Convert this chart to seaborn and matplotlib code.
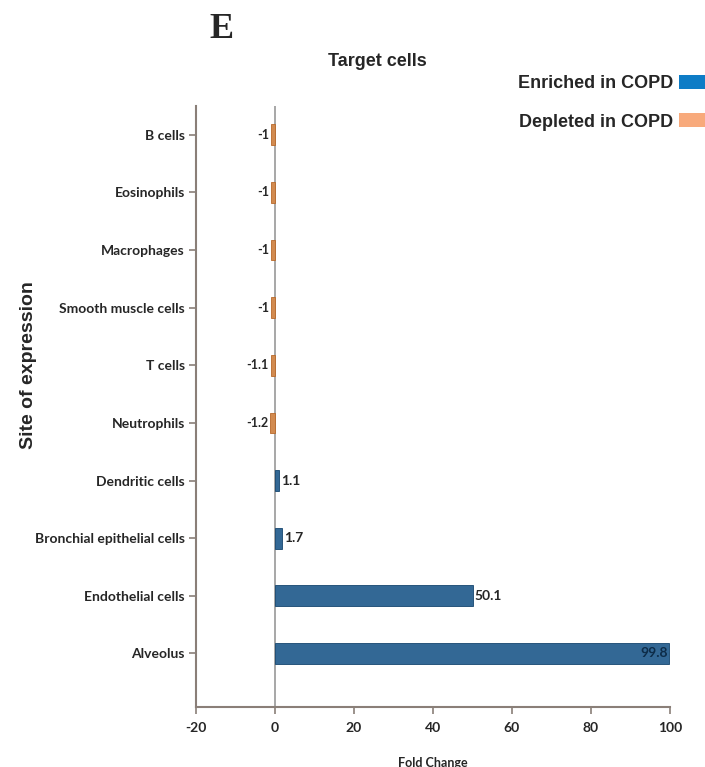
import pandas as pd
import matplotlib.pyplot as plt
import seaborn as sns
from matplotlib.patches import Patch

# data (top to bottom)
cells = ['B cells', 'Eosinophils', 'Macrophages', 'Smooth muscle cells', 'T cells',
         'Neutrophils', 'Dendritic cells', 'Bronchial epithelial cells',
         'Endothelial cells', 'Alveolus']
fold_change = [-1, -1, -1, -1, -1.1, -1.2, 1.1, 1.7, 50.1, 99.8]
value_labels = ['-1', '-1', '-1', '-1', '-1.1', '-1.2', '1.1', '1.7', '50.1', '99.8']
x_ticks = [-20, 0, 20, 40, 60, 80, 100]
legend_labels = ['Enriched in COPD', 'Depleted in COPD']

bar_blue = '#2369a5'
bar_orange = '#e8893a'
leg_blue = '#0e7cc6'
leg_orange = '#f8aa7c'

df = pd.DataFrame({'cell': cells, 'fc': fold_change})
df['direction'] = [legend_labels[0] if v > 0 else legend_labels[1] for v in df['fc']]

sns.set_style('white')
lato = ['Lato', 'DejaVu Sans']
arial = ['Liberation Sans', 'DejaVu Sans']

fig = plt.figure(figsize=(7.05, 7.67), dpi=100)
ax = fig.add_axes([0.278, 0.0782, 0.672, 0.7836])

sns.barplot(data=df, y='cell', x='fc', hue='direction', orient='h', dodge=False,
            palette={legend_labels[0]: bar_blue, legend_labels[1]: bar_orange},
            width=0.36, edgecolor='#15466f', linewidth=0.6, legend=False, ax=ax)
for bar in ax.patches:
    if bar.get_width() < 0:
        bar.set_edgecolor('#b8692a')

ax.set_xlim(-20, 100)
ax.set_ylim(9.93, -0.5)
ax.set_xticks(x_ticks)
ax.set_xticklabels([str(t) for t in x_ticks], family=lato, fontweight='bold', fontsize=10)
ax.set_yticks(range(len(cells)))
ax.set_yticklabels(cells, family=lato, fontweight='bold', fontsize=10)
ax.tick_params(axis='both', length=5, width=1.2, color='#8a7f78', pad=3, direction='out')
ax.tick_params(axis='x', pad=6)
ax.tick_params(left=True, bottom=True)

for side in ['top', 'right']:
    ax.spines[side].set_visible(False)
for side in ['left', 'bottom']:
    ax.spines[side].set_color('#8a7f78')
    ax.spines[side].set_linewidth(1.5)

# zero line
ax.axvline(0, color='#a0a0a0', linewidth=1.3, zorder=0)

# value labels
for i, (v, lab) in enumerate(zip(fold_change, value_labels)):
    if v < 0:
        ax.text(v - 0.5, i, lab, ha='right', va='center', fontsize=9,
                family=lato, fontweight='bold')
    elif v > 90:
        ax.text(v - 0.3, i, lab, ha='right', va='center', fontsize=10,
                family=lato, fontweight='bold', color='#0d2c48')
    else:
        ax.text(v + 0.5, i, lab, ha='left', va='center', fontsize=10,
                family=lato, fontweight='bold')

ax.set_xlabel('Fold Change', family=lato, fontweight='bold', fontsize=9, labelpad=16)
ax.set_ylabel('Site of expression', family=arial, fontweight='bold', fontsize=14)
ax.yaxis.set_label_coords(-0.335, 0.569)

fig.text(377 / 705, 1 - 62 / 767, 'Target cells', family=arial, fontweight='bold',
         fontsize=13, ha='center', va='center')
fig.text(222 / 705, 1 - 30 / 767, 'E', family=['Liberation Serif', 'DejaVu Serif'],
         fontweight='bold', fontsize=26, ha='center', va='center')

handles = [Patch(facecolor=leg_blue, edgecolor='none'),
           Patch(facecolor=leg_orange, edgecolor='none')]
fig.legend(handles, legend_labels, loc='upper right',
           bbox_to_anchor=(1.014, 0.902), frameon=False, markerfirst=False,
           borderaxespad=0, borderpad=0,
           prop={'family': arial, 'weight': 'bold', 'size': 13},
           handlelength=2.0, handleheight=0.8, handletextpad=0.3, labelspacing=1.17)

plt.savefig('out.png', dpi=100)
